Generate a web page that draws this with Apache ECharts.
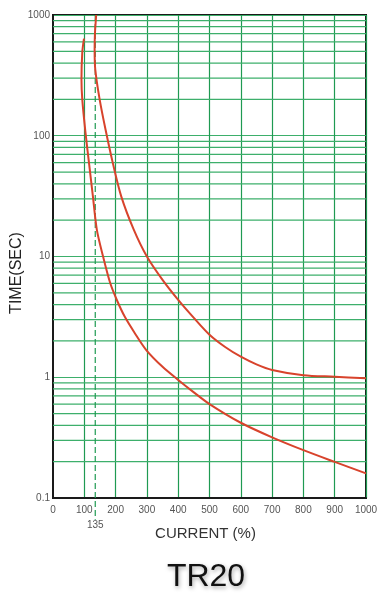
<!DOCTYPE html>
<html>
<head>
<meta charset="utf-8">
<script src="https://cdn.jsdelivr.net/npm/echarts@6/dist/echarts.min.js"></script>
<style>
html,body{margin:0;padding:0;background:#fff;}
#c{width:392px;height:594px;}
</style>
</head>
<body>
<div id="c"></div>
<script>
// Data
var title = 'TR20';
var xAxisName = 'CURRENT (%)';
var yAxisName = 'TIME(SEC)';
var xTicks = [0, 100, 200, 300, 400, 500, 600, 700, 800, 900, 1000];
var yTicks = [0.1, 1, 10, 100, 1000];
var markerCurrent = 135;

// Upper (max trip) curve: [current %, time s]
var upperCurrent = [138, 134, 133, 135, 149, 168, 191, 218, 258, 300, 350, 400, 450, 500, 550, 600, 650, 700, 800, 900, 1000];
var upperTime    = [1000, 700, 519, 355, 200, 112, 59.6, 31.5, 16.7, 10, 6.4, 4.37, 3.1, 2.25, 1.78, 1.48, 1.28, 1.15, 1.04, 1.01, 0.98];

// Lower (min trip) curve: [current %, time s]
var lowerCurrent = [99, 93.5, 91, 93.5, 104, 115, 127.5, 140, 160, 183, 205, 229, 260, 298, 350, 400, 450, 500, 600, 700, 800, 900, 1000];
var lowerTime    = [637, 488, 293, 200, 105, 59.6, 31.5, 16.7, 10, 6.0, 4.3, 3.18, 2.35, 1.68, 1.22, 0.95, 0.75, 0.6, 0.42, 0.318, 0.249, 0.199, 0.16];

function zip(a, b) { return a.map(function (v, i) { return [v, b[i]]; }); }

// log minor grid values (2..9 in each decade)
var minorGrid = [];
[0.1, 1, 10, 100].forEach(function (d) {
  for (var m = 2; m <= 9; m++) minorGrid.push(+(m * d).toPrecision(3));
});

var font = 'Liberation Sans, Arial, sans-serif';
var vGreen = '#1f9a52';
var hGreen = '#3daf6b';
var red = '#d8432c';

var series = [];
minorGrid.forEach(function (v) {
  series.push({
    type: 'line', silent: true, symbol: 'none', z: 1,
    lineStyle: {color: hGreen, width: 1.2},
    emphasis: {disabled: true},
    data: [[xTicks[0], v], [xTicks[xTicks.length - 1], v]]
  });
});
series.push({
  type: 'line', clip: false, silent: true, symbol: 'circle', symbolSize: 0, showSymbol: true, z: 3,
  lineStyle: {color: vGreen, width: 1.2, type: [6, 3]},
  itemStyle: {color: vGreen},
  emphasis: {disabled: true},
  label: {show: false},
  data: [[markerCurrent, 1000], {value: [markerCurrent, 0.066],
    label: {show: true, position: 'bottom', distance: 0, formatter: String(markerCurrent),
      fontFamily: font, fontSize: 10, color: '#555'}}]
});
series.push({
  type: 'line', smooth: 0.3, symbol: 'none', z: 5,
  lineStyle: {color: red, width: 2},
  data: zip(upperCurrent, upperTime)
});
series.push({
  type: 'line', smooth: 0.3, symbol: 'none', z: 5,
  lineStyle: {color: red, width: 2},
  data: zip(lowerCurrent, lowerTime)
});

var chart = echarts.init(document.getElementById('c'), null, {renderer: 'canvas'});
chart.setOption({
  animation: false,
  backgroundColor: '#fff',
  title: {
    text: title,
    left: 201, top: 556, textAlign: 'center',
    textStyle: {
      fontFamily: font, fontSize: 32, fontWeight: 'normal', color: '#111',
      textShadowColor: 'rgba(0,0,0,0.35)', textShadowBlur: 4, textShadowOffsetX: 1, textShadowOffsetY: 2
    }
  },
  graphic: [{
    type: 'text', x: 17, y: 273, rotation: Math.PI / 2,
    style: {text: yAxisName, fontFamily: font, fontSize: 16, fill: '#222',
      align: 'center', verticalAlign: 'middle'}
  }],
  grid: {
    left: 53, top: 15, width: 313, height: 483,
    outerBoundsMode: 'none', containLabel: false,
    show: true, borderColor: '#1a1a1a', borderWidth: 2, backgroundColor: 'transparent'
  },
  xAxis: {
    type: 'value', min: 0, max: 1000, interval: 100,
    name: xAxisName, nameLocation: 'middle', nameGap: 28,
    nameTextStyle: {fontFamily: font, fontSize: 15, color: '#333', padding: [0, 8, 0, 0]},
    axisLine: {show: true, lineStyle: {color: '#1a1a1a', width: 2}},
    axisTick: {show: false},
    axisLabel: {fontFamily: font, fontSize: 10, color: '#555', margin: 7,
      formatter: function (v) { return String(v); }},
    splitLine: {show: true, showMinLine: false, lineStyle: {color: vGreen, width: 1.2}}
  },
  yAxis: {
    type: 'log', logBase: 10, min: 0.1, max: 1000,
    axisLine: {show: true, lineStyle: {color: '#1a1a1a', width: 2}},
    axisTick: {show: false},
    axisLabel: {
      fontFamily: font, fontSize: 10, color: '#555', margin: 3,
      formatter: function (v) { return String(+v.toPrecision(3)); }
    },
    splitLine: {show: true, showMinLine: false, lineStyle: {color: hGreen, width: 1.2}}
  },
  series: series
});
</script>
</body>
</html>
